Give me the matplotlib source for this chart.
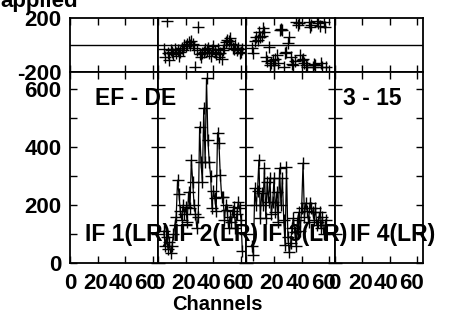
import matplotlib
matplotlib.use("Agg")
import matplotlib.pyplot as plt
import matplotlib.transforms as mtransforms

plt.rcParams['font.family'] = ['Liberation Sans', 'DejaVu Sans']
plt.rcParams['font.weight'] = 'bold'
plt.rcParams['axes.unicode_minus'] = False

# channels per IF and the IF labels
if_labels = ["IF 1(LR)", "IF 2(LR)", "IF 3(LR)", "IF 4(LR)"]
x_ticks = [0, 20, 40, 60]
amp_ticks = [0, 200, 400, 600]
phase_ticks = [-200, 200]

# IF 2 data (channels 4..61)
ch_if2 = list(range(4, 62))
amp_if2 = [110, 60, 90, 50, 72, 34, 60, 100, 130, 160, 286, 240, 180, 150, 200, 170,
           193, 140, 245, 190, 355, 280, 200, 170, 120, 160, 470, 348, 280, 535, 350, 638,
           425, 348, 300, 190, 250, 224, 180, 450, 415, 303, 228, 228, 150, 200, 183, 120,
           160, 140, 180, 193, 120, 170, 210, 190, 150, 40]
phase_if2 = [-30, -90, 178, -60, -110, -40, -50, -70, -30, -60, -40, -80, -50, -20, -40, 0,
             -10, 10, 20, 0, 30, 10, -20, -160, -40, 133, -70, -90, -60, -50, -30, -40,
             -20, -60, -80, -40, -10, -50, -70, -30, -90, -60, -100, -40, -20, 20, 40, 30,
             50, 10, -20, -30, 0, -40, -20, -60, -50, -30]

# IF 3 data (channels 4..58)
ch_if3 = list(range(4, 59))
amp_if3 = [60, 28, 258, 200, 250, 355, 155, 241, 200, 328, 155, 280, 210, 293, 170, 210,
           293, 175, 245, 140, 328, 200, 293, 150, 62, 331, 90, 38, 69, 120, 155, 107,
           60, 150, 175, 110, 190, 345, 160, 207, 180, 140, 207, 190, 175, 150, 190, 130,
           141, 175, 120, 160, 100, 130, 150]
phase_if3 = [-22, -59, 30, 59, 40, 96, 60, 70, 126, 100, -89, -120, -15, -148, -130, -110,
             -148, -100, -74, -130, 111, 120, 111, -163, -60, -52, 15, 59, -90, -140, -148, -120,
             170, 148, 160, -74, -110, -100, -133, -150, -160, 170, 133, 150, -163, -140, -150, 180,
             160, 140, -130, -160, 170, 130, -163]

data = {1: (ch_if2, amp_if2, phase_if2), 2: (ch_if3, amp_if3, phase_if3)}

W, H = 457, 320
fig = plt.figure(figsize=(W / 100, H / 100), dpi=100)

left, right = 70, 423
pw = (right - left) / 4
ph_top, ph_bot = 18, 72
amp_bot = 263
fs = 16
label_shift = [0, -2, -4, -6]  # px, labels sit a bit left of their ticks

for i in range(4):
    x0 = (left + i * pw) / W
    axp = fig.add_axes([x0, 1 - ph_bot / H, pw / W, (ph_bot - ph_top) / H])
    axa = fig.add_axes([x0, 1 - amp_bot / H, pw / W, (amp_bot - ph_bot) / H])

    for ax in (axp, axa):
        ax.set_xlim(0, 64)
        ax.set_xticks(x_ticks)
        for s in ax.spines.values():
            s.set_linewidth(1.3)
        ax.tick_params(direction='in', top=True, right=True, length=5, width=1,
                       labelsize=fs, pad=4)

    axp.set_ylim(-200, 200)
    axp.set_yticks(phase_ticks)
    axp.axhline(0, color='black', lw=1)
    axp.tick_params(axis='x', labelbottom=False)
    axp.tick_params(axis='y', length=0, pad=6)

    axa.set_ylim(0, 660)
    axa.set_yticks(range(0, 700, 100))
    axa.set_yticklabels([str(v) if v in amp_ticks else "" for v in range(0, 700, 100)])
    axa.tick_params(axis='y', pad=6)
    axa.tick_params(axis='x', pad=7)
    for lab, dx in zip(axa.get_xticklabels(), label_shift):
        lab.set_transform(lab.get_transform() +
                          mtransforms.ScaledTranslation(dx / 100, 0, fig.dpi_scale_trans))

    if i > 0:
        axp.tick_params(axis='y', labelleft=False)
        axa.tick_params(axis='y', labelleft=False)

    if i in data:
        ch, amp, phase = data[i]
        axa.plot(ch, amp, color='black', lw=0.9, marker='+', ms=8, mew=1)
        axp.plot(ch, phase, ls='none', color='black', marker='+', ms=8, mew=1)

    fig.text((left + i * pw + 15) / W, 1 - 241 / H, if_labels[i], fontsize=fs + 0.5,
             fontweight='bold', ha='left', va='baseline')

fig.text(95 / W, 1 - 105 / H, "EF - DE", fontsize=fs + 0.5, fontweight='bold',
         ha='left', va='baseline')
fig.text(343 / W, 1 - 105 / H, "3 - 15", fontsize=fs + 0.5, fontweight='bold',
         ha='left', va='baseline')
fig.text(78 / W, 1 - 7 / H, "applied", fontsize=fs, fontweight='bold',
         ha='right', va='baseline')
fig.text(217 / W, 1 - 310 / H, "Channels", fontsize=14.5, fontweight='bold',
         ha='center', va='baseline')

fig.savefig("out.png", dpi=100)
